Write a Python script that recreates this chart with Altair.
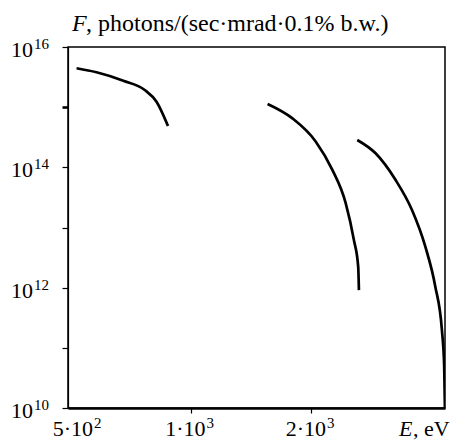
import altair as alt
import pandas as pd

# Segment 1
seg1_E = [519, 582, 679, 768, 822, 878]
seg1_F = [4.43e15, 3.8e15, 2.75e15, 1.93e15, 1.23e15, 4.87e14]
# Segment 2
seg2_E = [1557, 1797, 2055, 2260, 2440, 2558, 2622, 2633]
seg2_F = [1.13e15, 6.5e14, 2.67e14, 9.06e13, 2.54e13, 6.2e12, 2.24e12, 9.1e11]
# Segment 3
seg3_E = [2608, 2898, 3249, 3573, 3858, 4086, 4243, 4300, 4318]
seg3_F = [2.85e14, 1.71e14, 6.2e13, 1.95e13, 4.8e12, 1.04e12, 2.0e11, 4.9e10, 1.0e10]

x_ticks = [1000, 2000]
x_label_vals = [1000, 2000]
x_label_base = ["1·10", "2·10"]
x_label_exp = ["3", "3"]
x_first_val = [500]
x_first_base = ["5·10"]
x_first_exp = ["2"]

y_ticks = [1e10, 1e11, 1e12, 1e13, 1e14, 1e15, 1e16]
y_label_vals = [1e10, 1e12, 1e14, 1e16]
y_label_exp = ["10", "12", "14", "16"]

rows = []
for name, es, fs in (("a", seg1_E, seg1_F), ("b", seg2_E, seg2_F), ("c", seg3_E, seg3_F)):
    for i, (e, f) in enumerate(zip(es, fs)):
        rows.append({"seg": name, "order": i, "E": e, "F": f})
df = pd.DataFrame(rows)

FONT = "Liberation Serif"
FS = 22
FSE = 15
FST = 24

x_scale = alt.Scale(type="log", domain=[494, 4320], nice=False)
y_scale = alt.Scale(type="log", domain=[1e10, 1e16], nice=False)

lines = alt.Chart(df).mark_line(color="black", strokeWidth=2.7, interpolate="monotone", clip=True).encode(
    x=alt.X("E:Q", scale=x_scale,
            axis=alt.Axis(values=x_ticks, title=None, grid=False, labels=False,
                          tickSize=5, tickColor="black", tickWidth=1.2,
                          domainWidth=2.5, domainColor="black")),
    y=alt.Y("F:Q", scale=y_scale,
            axis=alt.Axis(values=y_ticks, title=None, grid=False, labels=False,
                          tickSize=6, tickWidth=alt.condition("datum.value == 1e15", alt.value(2.6), alt.value(1.2)),
                          domainWidth=1.2, domainColor="black", tickColor="black")),
    detail="seg:N",
    order="order:Q",
)

txt = dict(font=FONT, color="black", baseline="alphabetic")

# y tick labels: "10" + superscript exponent
ydf = pd.DataFrame({"F": y_label_vals, "exp": y_label_exp})
y_base = alt.Chart(ydf).mark_text(text="10", fontSize=FS, align="right", dy=10, **txt).encode(
    y=alt.Y("F:Q", scale=y_scale), x=alt.value(-35))
y_exp = alt.Chart(ydf).mark_text(fontSize=FSE, align="left", dy=2, **txt).encode(
    y=alt.Y("F:Q", scale=y_scale), x=alt.value(-34), text="exp:N")

# x tick labels
xdf = pd.DataFrame({"E": x_label_vals, "base": x_label_base, "exp": x_label_exp})
x_base = alt.Chart(xdf).mark_text(fontSize=FS, align="right", dx=15, **txt).encode(
    x=alt.X("E:Q", scale=x_scale), y=alt.value(389), text="base:N")
x_exp = alt.Chart(xdf).mark_text(fontSize=FSE, align="left", dx=16, **txt).encode(
    x=alt.X("E:Q", scale=x_scale), y=alt.value(381), text="exp:N")
x0df = pd.DataFrame({"E": x_first_val, "base": x_first_base, "exp": x_first_exp})
x0_base = alt.Chart(x0df).mark_text(fontSize=FS, align="right", dx=23, **txt).encode(
    x=alt.X("E:Q", scale=x_scale), y=alt.value(389), text="base:N")
x0_exp = alt.Chart(x0df).mark_text(fontSize=FSE, align="left", dx=24, **txt).encode(
    x=alt.X("E:Q", scale=x_scale), y=alt.value(381), text="exp:N")

one = pd.DataFrame({"v": [0]})
title_f = alt.Chart(one).mark_text(text="F", fontSize=FST, fontStyle="italic", align="left", **txt).encode(
    x=alt.value(4), y=alt.value(-16))
title_rest = alt.Chart(one).mark_text(text=", photons/(sec·mrad·0.1% b.w.)", fontSize=FST, align="left", **txt).encode(
    x=alt.value(18), y=alt.value(-16))
xl_e = alt.Chart(one).mark_text(text="E", fontSize=FS, fontStyle="italic", align="left", **txt).encode(
    x=alt.value(331), y=alt.value(389))
xl_rest = alt.Chart(one).mark_text(text=", eV", fontSize=FS, align="left", **txt).encode(
    x=alt.value(345), y=alt.value(389))

chart = alt.layer(lines, y_base, y_exp, x_base, x_exp, x0_base, x0_exp,
                  title_f, title_rest, xl_e, xl_rest).properties(
    width=377, height=361,
    autosize=alt.AutoSizeParams(type="none"),
    padding={"left": 68, "top": 47, "right": 7, "bottom": 33},
    background="white",
).configure_view(stroke="black", strokeWidth=1.5)

chart.save("out.html", embed_options={"renderer": "svg", "actions": False})
